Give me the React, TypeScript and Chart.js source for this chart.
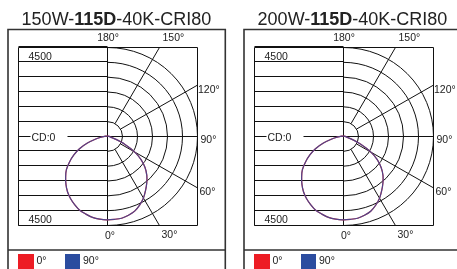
import React, { useEffect, useRef } from "react";
import { Chart, registerables } from "chart.js";

Chart.register(...registerables);

// ---------- data ----------
const TITLE_PREFIXES = ["150W-", "200W-"];
const TITLE_BOLD = "115D";
const TITLE_SUFFIX = "-40K-CRI80";

const SERIES_NAMES = ["0°", "90°"];
const SERIES_COLORS = ["#ed1c24", "#2b4c9f"];

// gamma angles (deg from nadir)
const GAMMA = [0, 5, 10, 15, 20, 25, 30, 35, 40, 45, 50, 55, 60, 65, 70, 75, 80, 85, 90];

// candela values, right half (C0 side) and left half (C180 side)
const CD_150W_RIGHT = [4236, 4230, 4222, 4148, 4045, 3859, 3636, 3361, 3092, 2815, 2482, 2079, 1575, 973, 420, 160, 50, 10, 0];
const CD_150W_LEFT = [4236, 4220, 4180, 4089, 3995, 3830, 3653, 3443, 3193, 2924, 2650, 2287, 1913, 1519, 1040, 580, 250, 70, 0];
const CD_200W_RIGHT = [4236, 4230, 4222, 4150, 4050, 3865, 3645, 3372, 3105, 2830, 2495, 2090, 1585, 980, 425, 160, 50, 10, 0];
const CD_200W_LEFT = [4236, 4220, 4180, 4089, 3995, 3830, 3653, 3443, 3193, 2924, 2650, 2287, 1913, 1519, 1040, 580, 250, 70, 0];

const RING_VALUES = [750, 1500, 2250, 3000, 3750, 4500];
const RING_LABEL = "4500";
const CENTER_LABEL = "CD:0";
const RADIAL_ANGLES = [0, 30, 60, 90, 120, 150, 180];
const RADIAL_LABELS = ["0°", "30°", "60°", "90°", "120°", "150°", "180°"];

const PANELS = [
  { prefix: TITLE_PREFIXES[0], left: CD_150W_LEFT, right: CD_150W_RIGHT },
  { prefix: TITLE_PREFIXES[1], left: CD_200W_LEFT, right: CD_200W_RIGHT },
];

// ---------- layout ----------
const PANEL_STEP = 236;
const CW = 236;
const CH = 269;
const AREA = { left: 18, right: 197, top: 47, bottom: 225 };
const FONT = '"Liberation Sans", Arial, sans-serif';
const TEXT = "#222";
const GRID = "#111";

const snap = (v: number) => Math.round(v - 0.5) + 0.5;

function planePoints(left: number[], right: number[]) {
  const pts: { x: number; y: number }[] = [];
  for (let i = GAMMA.length - 1; i >= 0; i--) {
    const t = (GAMMA[i] * Math.PI) / 180;
    pts.push({ x: -left[i] * Math.sin(t), y: -left[i] * Math.cos(t) });
  }
  for (let i = 1; i < GAMMA.length; i++) {
    const t = (GAMMA[i] * Math.PI) / 180;
    pts.push({ x: right[i] * Math.sin(t), y: -right[i] * Math.cos(t) });
  }
  return pts;
}

const framePlugin = {
  id: "frame",
  beforeDraw(chart: any) {
    const ctx = chart.ctx;
    ctx.save();
    ctx.strokeStyle = "#333";
    ctx.lineWidth = 1.6;
    ctx.beginPath();
    ctx.moveTo(8, 300);
    ctx.lineTo(8, 29.5);
    ctx.lineTo(225.3, 29.5);
    ctx.lineTo(225.3, 300);
    ctx.moveTo(8, 250);
    ctx.lineTo(225.3, 250);
    ctx.stroke();
    ctx.restore();
  },
};

const gridPlugin = {
  id: "polarGrid",
  beforeDatasetsDraw(chart: any) {
    const { ctx, chartArea, scales } = chart;
    const left = snap(chartArea.left);
    const right = snap(chartArea.right);
    const top = snap(chartArea.top);
    const bottom = snap(chartArea.bottom);
    const xs = scales.x;
    const ys = scales.y;
    const cx0 = xs.getPixelForValue(0);
    const cy0 = ys.getPixelForValue(0);
    const cx = snap(cx0);
    const cy = snap(cy0);
    const kx = (xs.getPixelForValue(1000) - cx0) / 1000;
    const ky = (cy0 - ys.getPixelForValue(1000)) / 1000;
    ctx.save();
    ctx.strokeStyle = GRID;
    ctx.lineWidth = 1;
    ctx.beginPath();
    ctx.rect(left, top, right - left, bottom - top);
    // vertical axis
    ctx.moveTo(cx, top);
    ctx.lineTo(cx, bottom);
    // left horizontal lines
    RING_VALUES.forEach((v) => {
      const y1 = snap(cy0 - v * ky);
      const y2 = snap(cy0 + v * ky);
      ctx.moveTo(left, y1);
      ctx.lineTo(cx, y1);
      ctx.moveTo(left, y2);
      ctx.lineTo(cx, y2);
    });
    // center line with gap for label
    ctx.moveTo(left, cy);
    ctx.lineTo(left + 12, cy);
    ctx.moveTo(left + 49, cy);
    ctx.lineTo(cx, cy);
    ctx.stroke();
    // arcs on right half
    RING_VALUES.forEach((v) => {
      ctx.beginPath();
      ctx.ellipse(cx, cy, v * kx, v * ky, 0, -Math.PI / 2, Math.PI / 2, false);
      ctx.stroke();
    });
    // radial lines
    const ends: Record<number, { x: number; y: number }> = {};
    RADIAL_ANGLES.forEach((a) => {
      const t = (a * Math.PI) / 180;
      const s = Math.sin(t);
      const c = Math.cos(t);
      let vEnd = Infinity;
      if (s > 1e-6) vEnd = Math.min(vEnd, (right - cx) / (kx * s));
      if (c > 1e-6) vEnd = Math.min(vEnd, (bottom - cy) / (ky * c));
      if (c < -1e-6) vEnd = Math.min(vEnd, (top - cy) / (ky * c));
      const v0 = a === 90 ? 0 : RING_VALUES[0];
      const ex = cx + vEnd * kx * s;
      const ey = cy + vEnd * ky * c;
      ends[a] = { x: ex, y: ey };
      if (a === 0 || a === 180) return;
      ctx.beginPath();
      ctx.moveTo(cx + v0 * kx * s, cy + v0 * ky * c);
      ctx.lineTo(ex, ey);
      ctx.stroke();
    });
    // labels
    ctx.fillStyle = TEXT;
    ctx.font = `10.5px ${FONT}`;
    ctx.textBaseline = "alphabetic";
    const lab = (i: number) => RADIAL_LABELS[i];
    ctx.textAlign = "left";
    ctx.fillText(lab(0), cx - 2.5, bottom + 13);
    ctx.fillText(lab(1), ends[30].x + 2, bottom + 12);
    ctx.fillText(lab(2), right + 2, ends[60].y + 7.5);
    ctx.fillText(lab(3), right + 3, cy + 6.5);
    ctx.fillText(lab(4), right + 0.5, ends[120].y + 7.5);
    ctx.fillText(lab(5), ends[150].x + 3, top - 6.5);
    ctx.textAlign = "center";
    ctx.fillText(lab(6), cx + 0.5, top - 6.5);
    ctx.textAlign = "left";
    ctx.fillText(RING_LABEL, left + 10, top + 12);
    ctx.fillText(RING_LABEL, left + 10, bottom - 3);
    ctx.fillText(CENTER_LABEL, left + 13, cy + 4);
    ctx.restore();
  },
};

function Panel({ index }: { index: number }) {
  const ref = useRef<HTMLCanvasElement>(null);
  const p = PANELS[index];
  useEffect(() => {
    const pts = planePoints(p.left, p.right);
    const chart = new Chart(ref.current as HTMLCanvasElement, {
      type: "scatter",
      data: {
        datasets: [
          {
            label: SERIES_NAMES[0],
            data: pts,
            showLine: true,
            borderColor: SERIES_COLORS[0],
            borderWidth: 1.2,
            pointRadius: 0,
            tension: 0.3,
            fill: false,
            order: 2,
          },
          {
            label: SERIES_NAMES[1],
            data: pts,
            showLine: true,
            borderColor: "rgba(43,76,159,0.82)",
            borderWidth: 1.2,
            pointRadius: 0,
            tension: 0.3,
            fill: false,
            order: 1,
          },
        ],
      },
      options: {
        responsive: false,
        animation: false,
        devicePixelRatio: 1,
        layout: {
          padding: { left: AREA.left, right: CW - AREA.right, top: AREA.top, bottom: CH - AREA.bottom },
        },
        scales: {
          x: { type: "linear", display: false, min: -4450, max: 4500 },
          y: { type: "linear", display: false, min: -4500, max: 4500 },
        },
        plugins: { legend: { display: false }, tooltip: { enabled: false } },
      },
      plugins: [framePlugin, gridPlugin],
    } as any);
    return () => chart.destroy();
  }, [index]);

  const legendItems = [
    { sx: 18, tx: 36.5 },
    { sx: 64.5, tx: 83 },
  ];
  return (
    <div style={{ position: "absolute", left: index * PANEL_STEP, top: 0, width: CW, height: CH }}>
      <canvas ref={ref} width={CW} height={CH} style={{ position: "absolute", left: 0, top: 0, width: CW, height: CH }} />
      <div
        style={{
          position: "absolute",
          left: -1.5,
          top: 10,
          width: CW,
          textAlign: "center",
          font: `18px ${FONT}`,
          lineHeight: "18px",
          color: TEXT,
          whiteSpace: "nowrap",
        }}
      >
        {p.prefix}
        <b>{TITLE_BOLD}</b>
        {TITLE_SUFFIX}
      </div>
      {SERIES_NAMES.map((name, i) => (
        <React.Fragment key={name}>
          <div
            style={{
              position: "absolute",
              left: legendItems[i].sx,
              top: 253.5,
              width: 15.5,
              height: 16,
              background: SERIES_COLORS[i],
            }}
          />
          <div
            style={{
              position: "absolute",
              left: legendItems[i].tx,
              top: 254.4,
              font: `10.5px ${FONT}`,
              lineHeight: "12px",
              color: TEXT,
              whiteSpace: "nowrap",
            }}
          >
            {name}
          </div>
        </React.Fragment>
      ))}
    </div>
  );
}

export default function App() {
  return (
    <div
      style={{
        position: "fixed",
        left: 0,
        top: 0,
        width: 457,
        height: 269,
        overflow: "hidden",
        background: "#fff",
      }}
    >
      {PANELS.map((_, i) => (
        <Panel key={i} index={i} />
      ))}
    </div>
  );
}
